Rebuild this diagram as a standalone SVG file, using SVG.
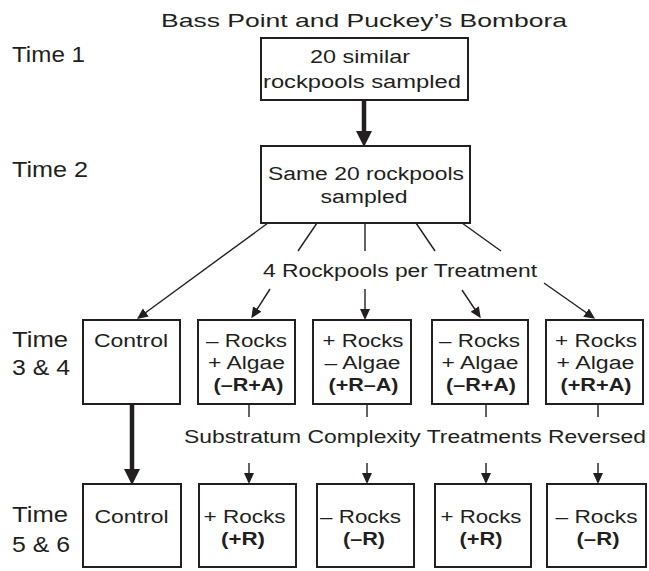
<svg xmlns="http://www.w3.org/2000/svg" width="649" height="571" viewBox="0 0 649 571">
<style>
text{font-family:"Liberation Sans",Arial,sans-serif;fill:#231f20;font-size:18px;text-anchor:middle}
.t{font-size:22px;text-anchor:start}
.title{font-size:18.6px}
.b{font-weight:bold}
rect{fill:#fff;stroke:#231f20;stroke-width:2}
.thin{stroke:#231f20;stroke-width:1.4;fill:none}
.thick{stroke:#231f20;stroke-width:4.5;fill:none}
</style>
<defs>
<marker id="ah" viewBox="0 0 11 10" refX="6" refY="5" markerWidth="11" markerHeight="10" markerUnits="userSpaceOnUse" orient="auto">
<path d="M0,0 L11,5 L0,10 Z" fill="#231f20"/>
</marker>
<marker id="ahb" viewBox="0 0 16 16" refX="6" refY="8" markerWidth="16" markerHeight="16" markerUnits="userSpaceOnUse" orient="auto">
<path d="M0,0 L16,8 L0,16 Z" fill="#231f20"/>
</marker>
</defs>
<text class="title" x="364" y="27" textLength="406" lengthAdjust="spacingAndGlyphs">Bass Point and Puckey’s Bombora</text>
<g id="labels">
<text class="t" x="12" y="62" textLength="73" lengthAdjust="spacingAndGlyphs">Time 1</text>
<text class="t" x="12" y="177" textLength="76" lengthAdjust="spacingAndGlyphs">Time 2</text>
<text class="t" x="12" y="347" textLength="56" lengthAdjust="spacingAndGlyphs">Time</text>
<text class="t" x="12" y="375" textLength="58" lengthAdjust="spacingAndGlyphs">3 &amp; 4</text>
<text class="t" x="12" y="522" textLength="56" lengthAdjust="spacingAndGlyphs">Time</text>
<text class="t" x="12" y="552" textLength="58" lengthAdjust="spacingAndGlyphs">5 &amp; 6</text>
<text x="400" y="277" textLength="274" lengthAdjust="spacingAndGlyphs">4 Rockpools per Treatment</text>
<text x="415" y="443" textLength="462" lengthAdjust="spacingAndGlyphs">Substratum Complexity Treatments Reversed</text>
</g>
<g id="connectors">
<line class="thick" x1="364" y1="100" x2="364" y2="137" marker-end="url(#ahb)"/>
<line class="thin" x1="268" y1="223" x2="141" y2="316" marker-end="url(#ah)"/>
<line class="thin" x1="317" y1="223" x2="298" y2="251"/>
<line class="thin" x1="270" y1="289" x2="254" y2="314" marker-end="url(#ah)"/>
<line class="thin" x1="365" y1="223" x2="365" y2="251"/>
<line class="thin" x1="365" y1="289" x2="365" y2="315" marker-end="url(#ah)"/>
<line class="thin" x1="416" y1="223" x2="435" y2="251"/>
<line class="thin" x1="462" y1="290" x2="478" y2="314" marker-end="url(#ah)"/>
<line class="thin" x1="462" y1="223" x2="501" y2="251"/>
<line class="thin" x1="544" y1="283" x2="591" y2="316" marker-end="url(#ah)"/>
<line class="thick" x1="132" y1="404" x2="132" y2="475" marker-end="url(#ahb)"/>
<line class="thin" x1="249" y1="404" x2="249" y2="417"/>
<line class="thin" x1="249" y1="463" x2="249" y2="479" marker-end="url(#ah)"/>
<line class="thin" x1="367" y1="404" x2="367" y2="417"/>
<line class="thin" x1="367" y1="463" x2="367" y2="479" marker-end="url(#ah)"/>
<line class="thin" x1="486" y1="404" x2="486" y2="417"/>
<line class="thin" x1="486" y1="463" x2="486" y2="479" marker-end="url(#ah)"/>
<line class="thin" x1="598" y1="404" x2="598" y2="417"/>
<line class="thin" x1="598" y1="463" x2="598" y2="479" marker-end="url(#ah)"/>
</g>
<g id="t1">
<rect x="261" y="38" width="207" height="62"/>
<text x="360" y="63" textLength="100" lengthAdjust="spacingAndGlyphs">20 similar</text>
<text x="362" y="88" textLength="198" lengthAdjust="spacingAndGlyphs">rockpools sampled</text>
</g>
<g id="t2">
<rect x="261" y="146" width="209" height="77"/>
<text x="366" y="180" textLength="196" lengthAdjust="spacingAndGlyphs">Same 20 rockpools</text>
<text x="364" y="203" textLength="87" lengthAdjust="spacingAndGlyphs">sampled</text>
</g>
<g id="r3c">
<rect x="83" y="320" width="97" height="84"/>
<text x="131" y="347" textLength="74" lengthAdjust="spacingAndGlyphs">Control</text>
</g>
<g id="r3a">
<rect x="198" y="320" width="97" height="84"/>
<text x="246.5" y="347" textLength="81" lengthAdjust="spacingAndGlyphs">– Rocks</text>
<text x="246.5" y="369" textLength="77" lengthAdjust="spacingAndGlyphs">+ Algae</text>
<text class="b" x="248.5" y="391" textLength="70" lengthAdjust="spacingAndGlyphs">(–R+A)</text>
</g>
<g id="r3b">
<rect x="313" y="320" width="98" height="84"/>
<text x="363" y="347" textLength="81" lengthAdjust="spacingAndGlyphs">+ Rocks</text>
<text x="362.5" y="369" textLength="76" lengthAdjust="spacingAndGlyphs">– Algae</text>
<text class="b" x="363.5" y="391" textLength="70" lengthAdjust="spacingAndGlyphs">(+R–A)</text>
</g>
<g id="r3d">
<rect x="432" y="320" width="96" height="84"/>
<text x="479.5" y="347" textLength="81" lengthAdjust="spacingAndGlyphs">– Rocks</text>
<text x="480" y="369" textLength="77" lengthAdjust="spacingAndGlyphs">+ Algae</text>
<text class="b" x="481" y="391" textLength="70" lengthAdjust="spacingAndGlyphs">(–R+A)</text>
</g>
<g id="r3e">
<rect x="546" y="320" width="97" height="84"/>
<text x="596" y="347" textLength="82" lengthAdjust="spacingAndGlyphs">+ Rocks</text>
<text x="595.5" y="369" textLength="78" lengthAdjust="spacingAndGlyphs">+ Algae</text>
<text class="b" x="596" y="391" textLength="71" lengthAdjust="spacingAndGlyphs">(+R+A)</text>
</g>
<g id="r4c">
<rect x="83" y="484" width="98" height="83"/>
<text x="131.5" y="523" textLength="74" lengthAdjust="spacingAndGlyphs">Control</text>
</g>
<g id="r4a">
<rect x="199" y="484" width="97" height="83"/>
<text x="244.5" y="523" textLength="82" lengthAdjust="spacingAndGlyphs">+ Rocks</text>
<text class="b" x="243" y="545" textLength="44" lengthAdjust="spacingAndGlyphs">(+R)</text>
</g>
<g id="r4b">
<rect x="317" y="484" width="97" height="83"/>
<text x="360.5" y="523" textLength="81" lengthAdjust="spacingAndGlyphs">– Rocks</text>
<text class="b" x="364" y="545" textLength="42" lengthAdjust="spacingAndGlyphs">(–R)</text>
</g>
<g id="r4d">
<rect x="435" y="484" width="96" height="83"/>
<text x="481" y="523" textLength="81" lengthAdjust="spacingAndGlyphs">+ Rocks</text>
<text class="b" x="481" y="545" textLength="43" lengthAdjust="spacingAndGlyphs">(+R)</text>
</g>
<g id="r4e">
<rect x="547" y="484" width="99" height="83"/>
<text x="596.5" y="523" textLength="82" lengthAdjust="spacingAndGlyphs">– Rocks</text>
<text class="b" x="598" y="545" textLength="43" lengthAdjust="spacingAndGlyphs">(–R)</text>
</g>
</svg>
